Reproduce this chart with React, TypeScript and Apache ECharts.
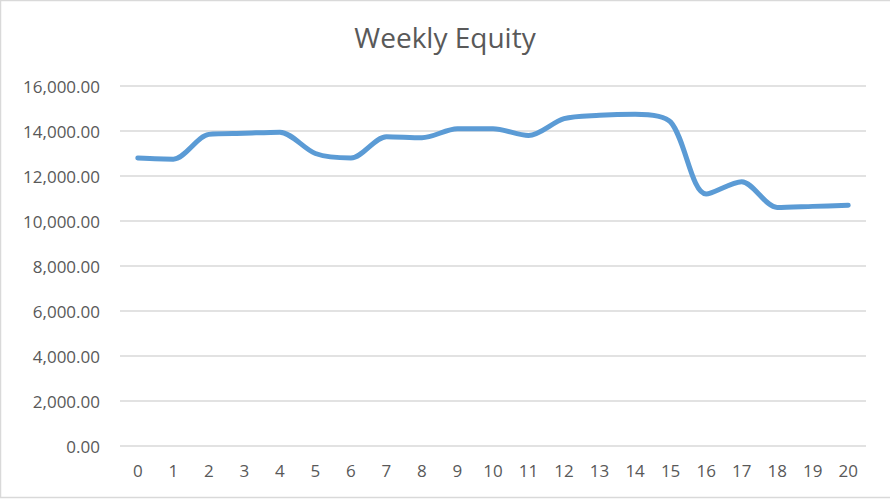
import { useEffect, useRef } from 'react'
import * as echarts from 'echarts'

// x axis: week numbers
const weeks = ['0', '1', '2', '3', '4', '5', '6', '7', '8', '9', '10', '11', '12', '13', '14', '15', '16', '17', '18', '19', '20']
// equity at the end of each week
const equity = [12800, 12750, 13850, 13900, 13950, 13000, 12800, 13750, 13700, 14100, 14100, 13800, 14550, 14700, 14750, 14400, 11200, 11750, 10600, 10650, 10700]
// y axis ticks
const yMin = 0
const yMax = 16000
const yStep = 2000

const App: React.FC = () => {
  const chartRef = useRef<HTMLDivElement | null>(null)

  useEffect(() => {
    if (chartRef.current === null) return
    const chart = echarts.init(chartRef.current, undefined, { renderer: 'svg' })
    chart.setOption({
      animation: false,
      backgroundColor: '#fff',
      textStyle: { fontFamily: 'Open Sans' },
      title: {
        text: 'Weekly Equity',
        left: 'center',
        top: 18,
        textStyle: { color: '#595959', fontSize: 28, fontWeight: 'normal', fontFamily: 'Open Sans' }
      },
      grid: { left: 120, right: 24, top: 86, bottom: 54 },
      xAxis: {
        type: 'category',
        data: weeks,
        boundaryGap: true,
        axisLine: { show: false },
        axisTick: { show: false },
        axisLabel: { color: '#595959', fontSize: 17, margin: 16 }
      },
      yAxis: {
        type: 'value',
        min: yMin,
        max: yMax,
        interval: yStep,
        axisLine: { show: false },
        axisTick: { show: false },
        axisLabel: {
          color: '#595959',
          fontSize: 17,
          margin: 20,
          formatter: (v: number) => v.toLocaleString('en-US', { minimumFractionDigits: 2, maximumFractionDigits: 2 })
        },
        splitLine: { lineStyle: { color: '#d9d9d9', width: 1.5 } }
      },
      series: [
        {
          type: 'line',
          data: equity,
          smooth: 0.3,
          symbol: 'none',
          lineStyle: { color: '#5b9bd5', width: 5, cap: 'round' }
        }
      ],
      graphic: [
        { type: 'line', shape: { x1: 0.5, y1: 0, x2: 0.5, y2: 498 }, style: { stroke: '#d9d9d9', lineWidth: 1.5 } },
        { type: 'line', shape: { x1: 0, y1: 0.5, x2: 890, y2: 0.5 }, style: { stroke: '#d9d9d9', lineWidth: 1.5 } },
        { type: 'line', shape: { x1: 0, y1: 497.5, x2: 890, y2: 497.5 }, style: { stroke: '#d9d9d9', lineWidth: 1.5 } }
      ]
    })
    return () => {
      chart.dispose()
    }
  }, [])

  return (
    <div
      ref={chartRef}
      style={{ position: 'fixed', left: 0, top: 0, width: 890, height: 500 }}
    ></div>
  )
}

export default App
